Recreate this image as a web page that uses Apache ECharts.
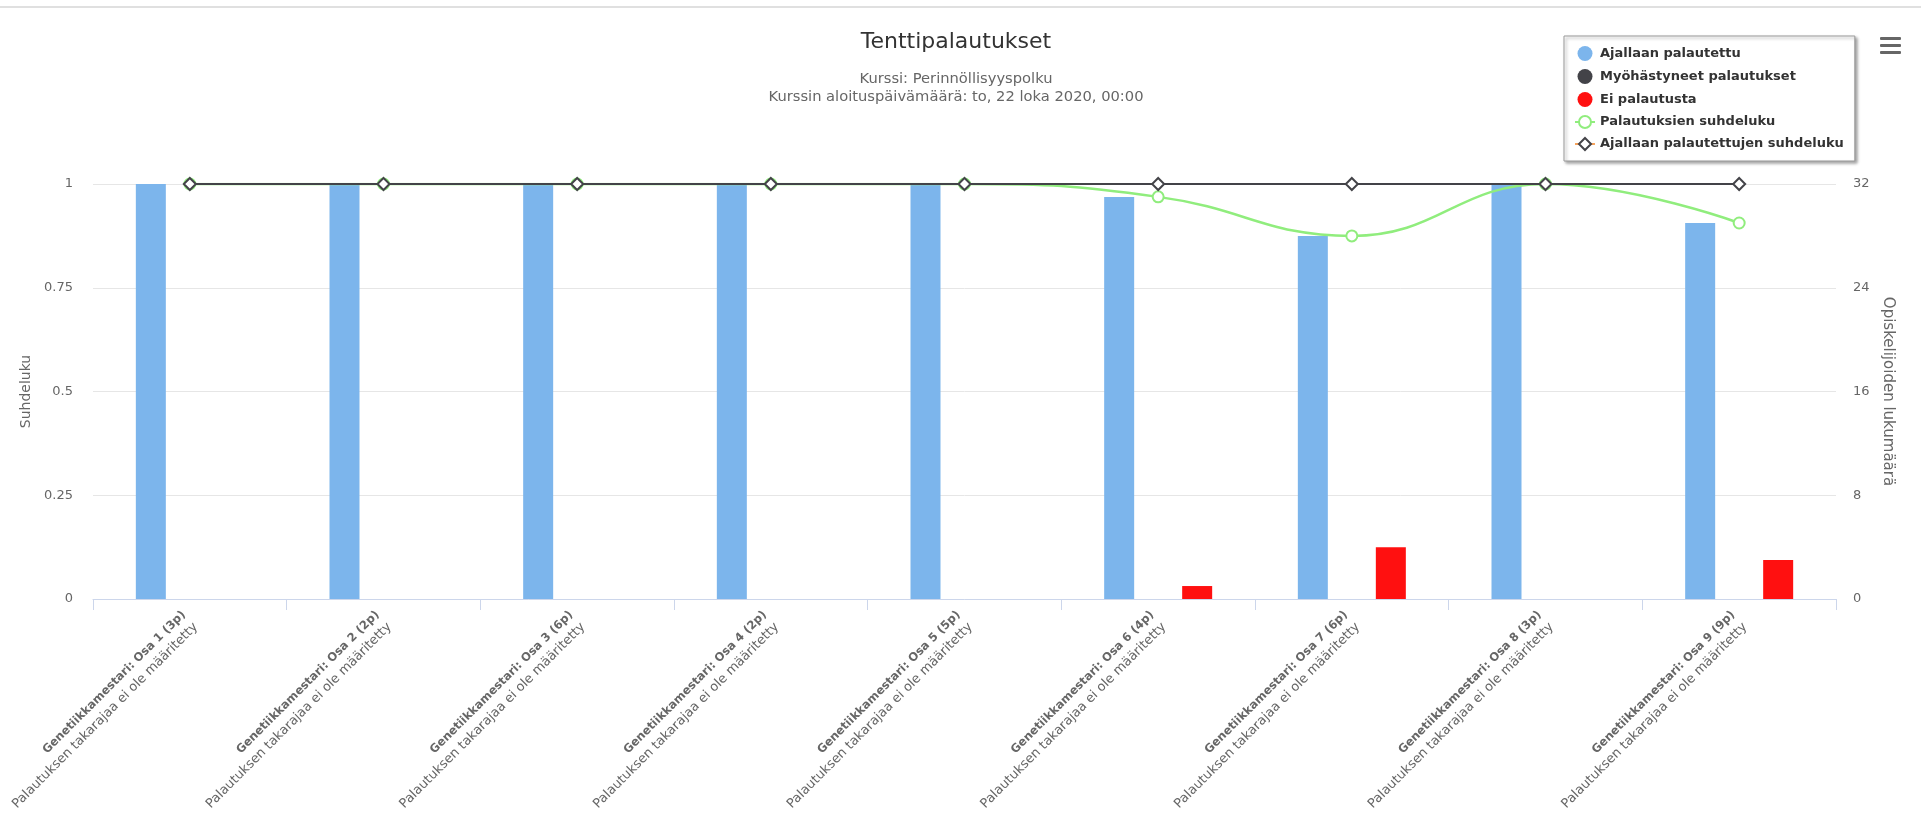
<!DOCTYPE html>
<html>
<head>
<meta charset="utf-8">
<script src="https://cdn.jsdelivr.net/npm/echarts@6/dist/echarts.min.js"></script>
<style>
html,body{margin:0;padding:0;background:#fff;}
#chart{width:1921px;height:818px;}
</style>
</head>
<body>
<div id="chart"></div>
<script>
// ---- data ----
const categories = [
  'Genetiikkamestari: Osa 1 (3p)',
  'Genetiikkamestari: Osa 2 (2p)',
  'Genetiikkamestari: Osa 3 (6p)',
  'Genetiikkamestari: Osa 4 (2p)',
  'Genetiikkamestari: Osa 5 (5p)',
  'Genetiikkamestari: Osa 6 (4p)',
  'Genetiikkamestari: Osa 7 (6p)',
  'Genetiikkamestari: Osa 8 (3p)',
  'Genetiikkamestari: Osa 9 (9p)'
];
const deadlineNote = 'Palautuksen takarajaa ei ole määritetty';
const onTime = [32, 32, 32, 32, 32, 31, 28, 32, 29];
const late = [0, 0, 0, 0, 0, 0, 0, 0, 0];
const notReturned = [0, 0, 0, 0, 0, 1, 4, 0, 3];
const returnRatio = [1, 1, 1, 1, 1, 0.969, 0.875, 1, 0.906];
const onTimeRatio = [1, 1, 1, 1, 1, 1, 1, 1, 1];
const ratioTicks = ['0', '0.25', '0.5', '0.75', '1'];
const countTicks = ['0', '8', '16', '24', '32'];

const FONT = 'DejaVu Sans';
const chart = echarts.init(document.getElementById('chart'));

chart.setOption({
  animation: false,
  backgroundColor: '#fff',
  textStyle: { fontFamily: FONT },
  title: {
    text: 'Tenttipalautukset',
    subtext: 'Kurssi: Perinnöllisyyspolku\nKurssin aloituspäivämäärä: to, 22 loka 2020, 00:00',
    left: 956,
    textAlign: 'center',
    top: 31,
    padding: 0,
    itemGap: 17,
    textStyle: { fontFamily: FONT, fontSize: 22, fontWeight: 'normal', color: '#333' },
    subtextStyle: { fontFamily: FONT, fontSize: 14.7, color: '#666', lineHeight: 18 }
  },
  legend: {
    orient: 'vertical',
    left: 1564,
    top: 36,
    padding: [10, 11, 10, 10],
    itemGap: 8,
    itemWidth: 20,
    itemHeight: 15,
    backgroundColor: '#fff',
    borderColor: '#999',
    borderWidth: 1,
    shadowColor: 'rgba(0,0,0,0.35)',
    shadowBlur: 3,
    shadowOffsetX: 2,
    shadowOffsetY: 2,
    textStyle: { fontFamily: FONT, fontSize: 13, fontWeight: 'bold', color: '#333' },
    data: [
      { name: 'Ajallaan palautettu', icon: 'circle' },
      { name: 'Myöhästyneet palautukset', icon: 'circle' },
      { name: 'Ei palautusta', icon: 'circle' },
      { name: 'Palautuksien suhdeluku' },
      { name: 'Ajallaan palautettujen suhdeluku', lineStyle: { color: '#f7a35c' } }
    ]
  },
  graphic: [
    { type: 'rect', left: 0, top: 6, shape: { width: 1921, height: 2 }, style: { fill: '#e0e0e0' }, silent: true },
    { type: 'rect', left: 1880, top: 37, shape: { width: 21, height: 3, r: 1 }, style: { fill: '#666' } },
    { type: 'rect', left: 1880, top: 44, shape: { width: 21, height: 3, r: 1 }, style: { fill: '#666' } },
    { type: 'rect', left: 1880, top: 51, shape: { width: 21, height: 3, r: 1 }, style: { fill: '#666' } }
  ],
  grid: { left: 93, right: 85, top: 184, bottom: 219, containLabel: false, outerBoundsMode: 'none' },
  xAxis: {
    type: 'category',
    data: categories,
    axisLine: { lineStyle: { color: '#ccd6eb', width: 1 } },
    axisTick: { show: true, length: 11, lineStyle: { color: '#ccd6eb' } },
    axisLabel: {
      rotate: 45,
      margin: 20,
      interval: 0,
      color: '#666',
      fontFamily: FONT,
      formatter: function (v) { return '{b|' + v + '}\n{n|' + deadlineNote + '}'; },
      rich: {
        b: { fontFamily: FONT, fontSize: 11.6, fontWeight: 'bold', color: '#666', lineHeight: 17 },
        n: { fontFamily: FONT, fontSize: 13, color: '#666', lineHeight: 17 }
      }
    }
  },
  yAxis: [
    {
      type: 'value',
      min: 0, max: 1, interval: 0.25,
      name: 'Suhdeluku',
      nameLocation: 'middle',
      nameGap: 60,
      nameTextStyle: { fontFamily: FONT, fontSize: 14, color: '#666' },
      axisLine: { show: false },
      axisTick: { show: false },
      axisLabel: {
        margin: 20, color: '#666', fontSize: 13, fontFamily: FONT,
        formatter: function (v) { return ratioTicks[Math.round(v / 0.25)]; }
      },
      splitLine: { lineStyle: { color: '#e6e6e6', width: 1 } }
    },
    {
      type: 'value',
      min: 0, max: 32, interval: 8,
      name: 'Opiskelijoiden lukumäärä',
      nameLocation: 'middle',
      nameGap: 41,
      nameRotate: -90,
      nameTextStyle: { fontFamily: FONT, fontSize: 15, color: '#666' },
      axisLine: { show: false },
      axisTick: { show: false },
      axisLabel: {
        margin: 17, color: '#666', fontSize: 13, fontFamily: FONT,
        formatter: function (v) { return countTicks[Math.round(v / 8)]; }
      },
      splitLine: { show: false }
    }
  ],
  series: [
    {
      name: 'Ajallaan palautettu', type: 'bar', yAxisIndex: 1,
      data: onTime, barWidth: 30, barGap: '30%',
      itemStyle: { color: '#7cb5ec' }
    },
    {
      name: 'Myöhästyneet palautukset', type: 'bar', yAxisIndex: 1,
      data: late, barWidth: 30, barGap: '30%',
      itemStyle: { color: '#434348' }
    },
    {
      name: 'Ei palautusta', type: 'bar', yAxisIndex: 1,
      data: notReturned, barWidth: 30, barGap: '30%',
      itemStyle: { color: '#ff1010' }
    },
    {
      name: 'Palautuksien suhdeluku', type: 'line', yAxisIndex: 0,
      data: returnRatio, smooth: 0.45,
      symbol: 'circle', symbolSize: 11, showAllSymbol: true,
      lineStyle: { color: '#90ed7d', width: 2.5 },
      itemStyle: { color: '#fff', borderColor: '#90ed7d', borderWidth: 2 },
      z: 3
    },
    {
      name: 'Ajallaan palautettujen suhdeluku', type: 'line', yAxisIndex: 0,
      data: onTimeRatio,
      symbol: 'diamond', symbolSize: 12, showAllSymbol: true,
      lineStyle: { color: '#434348', width: 2 },
      itemStyle: { color: '#fff', borderColor: '#434348', borderWidth: 2 },
      z: 4
    }
  ]
});
</script>
</body>
</html>
